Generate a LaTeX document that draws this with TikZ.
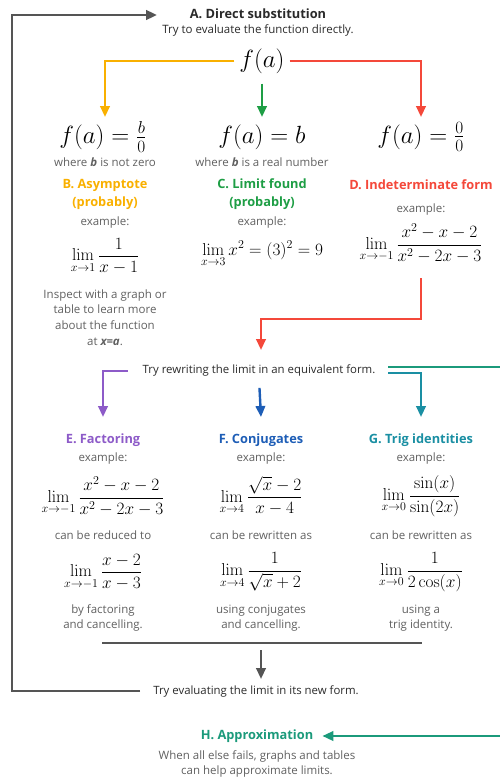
\documentclass[tikz,border=0pt]{standalone}
\usepackage[no-math]{fontspec}
\setmainfont{Open Sans}
\usepackage{amsmath}
\usetikzlibrary{arrows.meta}
\definecolor{yel}{HTML}{F9B000}
\definecolor{grn}{HTML}{1E9E45}
\definecolor{rd}{HTML}{F4483A}
\definecolor{prp}{HTML}{8D5BC8}
\definecolor{blu}{HTML}{1D5DB6}
\definecolor{tel}{HTML}{1A8FA3}
\definecolor{hgr}{HTML}{1B9A7B}
\definecolor{lgray}{HTML}{555555}
\definecolor{tgray}{HTML}{606060}
\definecolor{tdark}{HTML}{2A2A2A}
\begin{document}
\begin{tikzpicture}[x=1pt,y=-1pt,line width=2.4pt,>={Triangle[width=9.5pt,length=11pt]},
  every node/.style={inner sep=1pt,align=center},
  ttl/.style={font=\fontsize{12.8}{18}\selectfont\bfseries},
  sub/.style={font=\fontsize{11.5}{15.6}\selectfont,text=tgray},
  note/.style={font=\fontsize{11.4}{15.6}\selectfont,text=tdark},
  bigmath/.style={font=\fontsize{31}{33}\selectfont},
  midmath/.style={font=\fontsize{23}{26}\selectfont},
  limmath/.style={font=\fontsize{16.5}{19}\selectfont}]
\useasboundingbox (0,0) rectangle (500,779);
% step A
\node[ttl,text=tdark] (A) at (258,14) {A. Direct substitution};
\node[sub,text=tdark] (Asub) at (258,30) {Try to evaluate the function directly.};
\node[bigmath] (fa) at (262,61) {$f(a)$};
\coordinate (btip) at (105,117);
\coordinate (ctip) at (262,117);
\coordinate (dtip) at (421,117);
\draw[yel,->,shorten <=3pt] (fa.west) -| (btip);
\draw[grn,->,shorten <=8pt] (fa.south) -- (ctip);
\draw[rd,->,shorten <=3pt] (fa.east) -| (dtip);
% three outcomes
\node[midmath] (fb) at (103,137) {$f(a)=\frac{b}{0}$};
\node[midmath] (fc) at (262,137) {$f(a)=b$};
\node[midmath] (fd) at (421,137) {$f(a)=\frac{0}{0}$};
\node[sub] (wb) at (105,162) {where \textbf{\textit{b}} is not zero};
\node[sub] (wc) at (262,162) {where \textbf{\textit{b}} is a real number};
\node[ttl,text=yel] (B) at (105,194) {B. Asymptote\\(probably)};
\node[ttl,text=grn] (C) at (262,194) {C. Limit found\\(probably)};
\node[ttl,text=rd] (D) at (421,185) {D. Indeterminate form};
\node[sub] (exb) at (105,223) {example:};
\node[sub] (exc) at (262,223) {example:};
\node[sub] (exd) at (421,210) {example:};
\node[limmath] (limb) at (105,256) {$\displaystyle\lim_{x\to1}\frac{1}{x-1}$};
\node[limmath] (limc) at (262,254) {$\displaystyle\lim_{x\to3}x^2=(3)^2=9$};
\node[limmath] (limd) at (421,243) {$\displaystyle\lim_{x\to-1}\frac{x^2-x-2}{x^2-2x-3}$};
\node[sub] (insp) at (105,317.5) {Inspect with a graph or\\table to learn more\\about the function\\at \textbf{\textit{x=a}}.};
% rewrite
\coordinate (d1) at (421,278);
\coordinate (rtip) at (261,350);
\draw[rd,->] (d1) |- (341,319) -| (rtip);
\node[note] (rew) at (259,371) {Try rewriting the limit in an equivalent form.};
\coordinate (etip) at (103,417);
\coordinate (ftip) at (261,417);
\coordinate (gtip) at (421,417);
\coordinate (hout) at (500,367);
\draw[prp,->,shorten <=13pt] (rew.west) -| (etip);
\draw[blu,->,shorten <=9pt] (rew.south) -- (ftip);
\draw[tel,->,shorten <=11pt] ([yshift=-2pt]rew.east) -| (gtip);
\draw[hgr,shorten <=11pt] ([yshift=4pt]rew.east) -- (hout);
% three methods
\node[ttl,text=prp] (E) at (103,440) {E. Factoring};
\node[ttl,text=blu] (F) at (261,440) {F. Conjugates};
\node[ttl,text=tel] (G) at (421,440) {G. Trig identities};
\node[sub] (exe) at (103,459) {example:};
\node[sub] (exf) at (261,459) {example:};
\node[sub] (exg) at (421,459) {example:};
\node[limmath] (lime) at (103,496) {$\displaystyle\lim_{x\to-1}\frac{x^2-x-2}{x^2-2x-3}$};
\node[limmath] (limf) at (261,496) {$\displaystyle\lim_{x\to4}\frac{\sqrt{x}-2}{x-4}$};
\node[limmath] (limg) at (421,496) {$\displaystyle\lim_{x\to0}\frac{\sin(x)}{\sin(2x)}$};
\node[sub] (re) at (103,535) {can be reduced to};
\node[sub] (rf) at (261,535) {can be rewritten as};
\node[sub] (rg) at (421,535) {can be rewritten as};
\node[limmath] (lime2) at (103,572) {$\displaystyle\lim_{x\to-1}\frac{x-2}{x-3}$};
\node[limmath] (limf2) at (261,572) {$\displaystyle\lim_{x\to4}\frac{1}{\sqrt{x}+2}$};
\node[limmath] (limg2) at (421,572) {$\displaystyle\lim_{x\to0}\frac{1}{2\cos(x)}$};
\node[sub] (be) at (103,618) {by factoring\\and cancelling.};
\node[sub] (bf) at (261,618) {using conjugates\\and cancelling.};
\node[sub] (bg) at (421,618) {using a\\trig identity.};
% evaluate again
\coordinate (bl) at (102,643);
\coordinate (br) at (422,643);
\coordinate (vtop) at (261,650);
\coordinate (vtip) at (261,679);
\draw[lgray] (bl) -- (br);
\draw[lgray,->] (vtop) -- (vtip);
\node[note] (evl) at (256,691) {Try evaluating the limit in its new form.};
\coordinate (lc) at (12,15);
\coordinate (atip) at (157,15);
\draw[lgray,line width=2.8pt,->,shorten <=11pt] (evl.west) -| (lc) -- (atip);
% approximation
\node[ttl,text=hgr] (H) at (257,736) {H. Approximation};
\coordinate (hin) at (500,736);
\draw[hgr,->,shorten >=7pt] (hin) -- (H.east);
\node[sub] (hsub) at (257,764) {When all else fails, graphs and tables\\can help approximate limits.};
\end{tikzpicture}
\end{document}
